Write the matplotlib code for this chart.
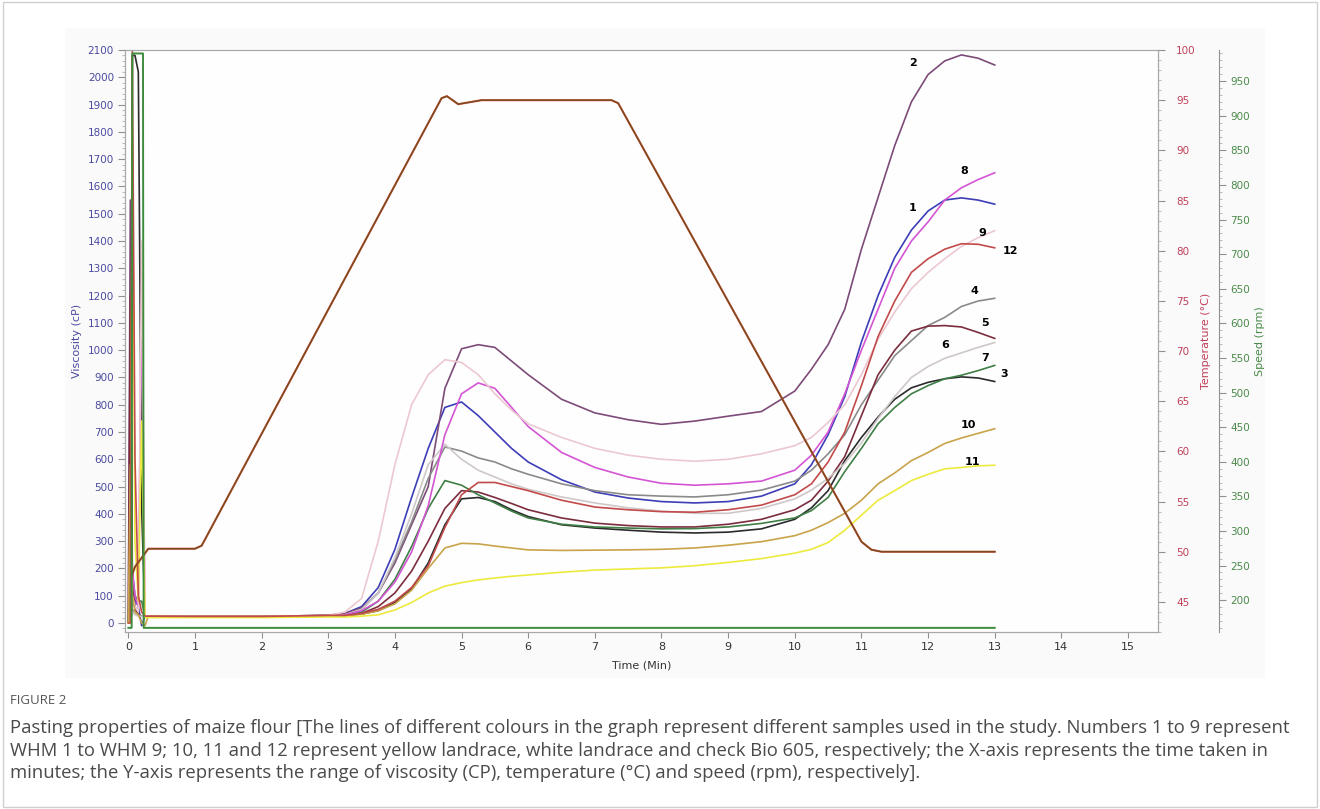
import numpy as np
import matplotlib.pyplot as plt
from matplotlib.patches import Rectangle
from matplotlib.ticker import MultipleLocator

# time grid (min): start-up spikes, then the regular RVA run
time_min = [0.0, 0.03, 0.06, 0.1, 0.15, 0.2, 0.25,
            0.3, 1.0, 2.0, 3.0,
            3.25, 3.5, 3.75, 4.0, 4.25, 4.5, 4.75, 5.0, 5.25, 5.5,
            5.75,
            6.0, 6.5, 7.0, 7.5, 8.0, 8.5, 9.0, 9.5,
            10.0, 10.25, 10.5, 10.75, 11.0, 11.25, 11.5, 11.75, 12.0, 12.25, 12.5, 12.75, 13.0]

# viscosity (cP) of each sample
s1 = [0, 0, 80, 85, 60, -10, 25, 25, 24, 24, 28,
      35, 60, 130, 270, 460, 640, 790, 810, 760, 700, 640,
      590, 525, 480, 458, 445, 440, 445, 465,
      510, 580, 690, 830, 1030, 1200, 1340, 1440, 1510, 1550, 1558, 1550, 1535]
s2 = [0, 1550, 200, 60, 30, 25, 25, 25, 24, 24, 28,
      35, 55, 110, 220, 360, 500, 860, 1005, 1020, 1010, 960,
      910, 820, 770, 745, 728, 740, 758, 775,
      850, 930, 1020, 1150, 1370, 1560, 1750, 1910, 2010, 2060, 2082, 2070, 2045]
s3 = [0, 0, 2080, 2080, 2020, 420, 25, 25, 24, 24, 27,
      28, 33, 45, 75, 125, 220, 360, 455, 460, 445, 415,
      390, 360, 348, 340, 333, 330, 333, 345,
      380, 422, 485, 595, 680, 755, 820, 862, 882, 895, 902, 898, 885]
s4 = [0, 0, 50, 40, 30, 25, 25, 25, 24, 24, 27,
      30, 50, 110, 230, 370, 530, 645, 630, 605, 590, 565,
      545, 510, 485, 470, 465, 462, 470, 487,
      520, 560, 620, 690, 800, 890, 980, 1035, 1090, 1120, 1160, 1180, 1190]
s5 = [0, 1200, 150, 50, 30, 25, 25, 25, 24, 24, 27,
      28, 35, 60, 110, 190, 300, 420, 485, 480, 460, 438,
      415, 385, 366, 357, 352, 352, 362, 380,
      415, 450, 520, 610, 760, 910, 1000, 1070, 1088, 1090, 1085, 1065, 1043]
s6 = [0, 0, 40, 30, 25, 25, 25, 25, 24, 24, 27,
      30, 50, 110, 240, 400, 580, 655, 600, 560, 535, 510,
      490, 462, 440, 422, 410, 402, 402, 420,
      455, 487, 530, 585, 660, 750, 830, 900, 940, 970, 990, 1010, 1028]
s7 = [0, 230, 180, 100, 80, 80, 25, 25, 24, 24, 27,
      28, 40, 80, 160, 280, 420, 522, 505, 470, 440, 410,
      385, 362, 352, 348, 345, 346, 352, 365,
      385, 412, 460, 555, 640, 730, 790, 840, 870, 895, 908, 925, 944]
s8 = [0, 0, 200, 100, 60, 1250, 25, 25, 24, 24, 27,
      30, 45, 80, 150, 260, 430, 690, 840, 880, 860, 790,
      720, 625, 570, 535, 512, 505, 510, 520,
      560, 615, 700, 840, 1000, 1150, 1300, 1400, 1470, 1550, 1595, 1625, 1650]
s9 = [0, 0, 100, 60, 40, 1400, 25, 25, 24, 24, 28,
      40, 90, 300, 580, 800, 910, 965, 955, 910, 840, 780,
      730, 680, 640, 615, 600, 593, 600, 620,
      650, 680, 735, 800, 910, 1040, 1140, 1225, 1285, 1335, 1380, 1412, 1438]
s10 = [0, 580, 100, 40, 30, 0, -10, 25, 24, 24, 27,
       27, 32, 45, 70, 120, 200, 275, 292, 290, 282, 275,
       268, 266, 267, 268, 270, 275, 285, 298,
       320, 340, 368, 402, 450, 510, 550, 595, 625, 658, 678, 695, 712]
s11 = [0, 0, 1820, 300, 80, 740, 20, 20, 20, 20, 22,
       22, 25, 30, 48, 75, 110, 135, 148, 158, 165, 171,
       176, 186, 194, 198, 202, 210, 222, 236,
       256, 270, 295, 340, 395, 450, 485, 522, 545, 565, 570, 576, 578]
s12 = [0, 0, 2100, 600, 100, 40, 25, 25, 24, 24, 28,
       28, 35, 50, 80, 130, 210, 350, 470, 515, 515, 500,
       485, 450, 425, 415, 408, 406, 415, 432,
       470, 510, 590, 700, 870, 1050, 1180, 1285, 1335, 1370, 1390, 1388, 1375]

samples = [s1, s2, s3, s4, s5, s6, s7, s8, s9, s10, s11, s12]
sample_names = ['1', '2', '3', '4', '5', '6', '7', '8', '9', '10', '11', '12']
colours = ['#3d3db8', '#7d4b78', '#2b2b2b', '#8a8a8a', '#7b2d3e', '#cfc8c8',
           '#3f7f45', '#d455d4', '#ecc8d0', '#c9a34a', '#ecea3c', '#c24a4a']

# where the sample numbers sit (time, viscosity)
label_t = [11.76, 11.78, 13.14, 12.7, 12.85, 12.25, 12.85, 12.55, 12.82, 12.6, 12.66, 13.23]
label_v = [1522, 2053, 911, 1218, 1101, 1020, 970, 1657, 1430, 724, 589, 1365]

# temperature profile (deg C)
temp_time = [0.05, 0.1, 0.3, 1.0, 1.1, 4.7, 4.78, 4.95, 5.3, 7.25, 7.35, 11.0, 11.15, 11.3, 13.0]
temp_vals = [47.6, 48.5, 50.3, 50.3, 50.6, 95.2, 95.4, 94.6, 95.0, 95.0, 94.7, 51.0, 50.2, 50.0, 50.0]

# paddle speed (rpm)
speed_time = [0.0, 0.05, 0.06, 0.22, 0.23, 13.0]
speed_vals = [160, 160, 990, 990, 160, 160]

caption = ['Pasting properties of maize flour [The lines of different colours in the graph represent different samples used in the study. Numbers 1 to 9 represent',
           'WHM 1 to WHM 9; 10, 11 and 12 represent yellow landrace, white landrace and check Bio 605, respectively; the X-axis represents the time taken in',
           'minutes; the Y-axis represents the range of viscosity (CP), temperature (\u00b0C) and speed (rpm), respectively].']

fig = plt.figure(figsize=(13.2, 8.09), dpi=100)
fig.patches.append(Rectangle((0.002, 0.002), 0.996, 0.996, transform=fig.transFigure,
                             facecolor='white', edgecolor='#d0d0d0', lw=1, zorder=-5))
fig.patches.append(Rectangle((65 / 1320, 1 - 678 / 809), 1200 / 1320, 650 / 809, transform=fig.transFigure,
                             facecolor='#fafafa', edgecolor='none', zorder=-4))

ax = fig.add_axes([125 / 1320, 1 - 632 / 809, 1033 / 1320, 582 / 809])
ax.set_facecolor('#fefefe')

x = np.array(time_min)
for vals, col in zip(samples, colours):
    ax.plot(x, vals, color=col, lw=1.2, solid_joinstyle='round')

for name, t, v in zip(sample_names, label_t, label_v):
    ax.text(t, v, name, fontsize=8, fontweight='bold', color='black', ha='center', va='center')

ax.set_xlim(-0.05, 15.45)
ax.set_ylim(-33, 2100)
ax.set_xticks(range(0, 16))
ax.set_yticks(range(0, 2101, 100))
ax.yaxis.set_minor_locator(MultipleLocator(20))
ax.tick_params(axis='y', which='major', labelsize=7.5, labelcolor='#4a4aa0', color='#909090', length=5, pad=3)
ax.tick_params(axis='y', which='minor', color='#b0b0b0', length=2.5)
ax.tick_params(axis='x', labelsize=8, labelcolor='#333333', color='#909090', length=4)
ax.set_ylabel('Viscosity (cP)', fontsize=8, color='#4a4aa0', labelpad=4)
ax.set_xlabel('Time (Min)', fontsize=8, color='#333333', labelpad=6)
for sp in ax.spines.values():
    sp.set_color('#a8a8a8')

ax_t = ax.twinx()
ax_t.plot(temp_time, temp_vals, color='#cc5040', lw=1.5)
ax_t.plot(temp_time, temp_vals, color='#6b4a14', lw=1.0, alpha=0.85)
ax_t.set_ylim(42.0, 100)
ax_t.set_yticks(range(45, 101, 5))
ax_t.yaxis.set_minor_locator(MultipleLocator(1))
ax_t.tick_params(axis='y', which='major', labelsize=7.5, labelcolor='#c0405a', color='#909090', length=5, pad=8)
ax_t.tick_params(axis='y', which='minor', color='#b0b0b0', length=2.5)
ax_t.set_ylabel('Temperature (\u00b0C)', fontsize=8, color='#c0405a', labelpad=4)
for sp in ax_t.spines.values():
    sp.set_color('#a8a8a8')

ax_s = ax.twinx()
ax_s.spines['right'].set_position(('axes', 1.059))
ax_s.spines['right'].set_color('#909090')
ax_s.spines['left'].set_visible(False)
ax_s.spines['top'].set_visible(False)
ax_s.spines['bottom'].set_visible(False)
ax_s.plot(speed_time, speed_vals, color='#3c8c3c', lw=1.4)
ax_s.set_ylim(154, 995)
ax_s.set_yticks(range(200, 951, 50))
ax_s.yaxis.set_minor_locator(MultipleLocator(10))
ax_s.tick_params(axis='y', which='major', labelsize=7.5, labelcolor='#4a8a4a', color='#909090', length=5, pad=3)
ax_s.tick_params(axis='y', which='minor', color='#b0b0b0', length=2.5)
ax_s.set_ylabel('Speed (rpm)', fontsize=8, color='#4a8a4a', labelpad=4)

fig.text(10 / 1320, 1 - 700 / 809, 'FIGURE 2', fontsize=9.5, color='#555555', family='Open Sans', va='center')
for i, line in enumerate(caption):
    fig.text(10 / 1320, 1 - (728 + 22.5 * i) / 809, line, fontsize=13.3, color='#4a4a4a',
             family='Open Sans', va='center')

plt.savefig('out.png', dpi=100)
